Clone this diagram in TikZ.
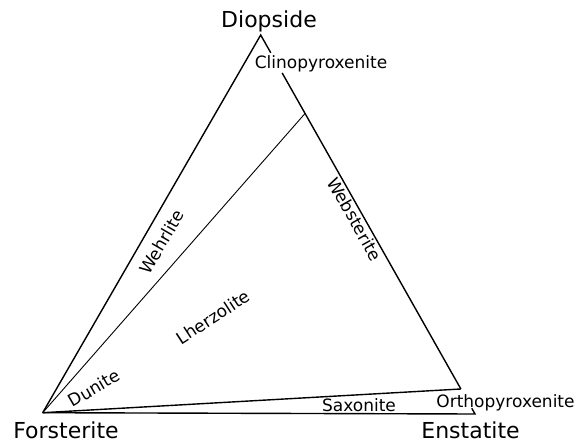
\documentclass[tikz,border=0pt]{standalone}
\usepackage{fontspec}
\setmainfont{DejaVu Sans}
\usetikzlibrary{calc}

\begin{document}
\begin{tikzpicture}[x=1pt, y=-1pt,
  edge/.style={line width=1.4pt, line join=miter},
  divide/.style={line width=0.9pt},
  vl/.style={anchor=base, inner sep=0pt, font=\fontsize{22}{25}\selectfont},
  rl/.style={inner sep=0pt, font=\fontsize{17}{20}\selectfont}]
\useasboundingbox (0,0) rectangle (577,443);
\coordinate (fo) at (42.7,412.7);
\coordinate (di) at (260.7,35);
\coordinate (en) at (475,414);
\coordinate (we) at ($(di)!0.207!(en)$);
\coordinate (sa) at ($(di)!0.934!(en)$);
\draw[edge] (fo) -- (di) -- ($(di)!0.047!(en)$);
\draw[edge] ($(di)!0.10!(en)$) -- (sa);
\draw[edge] (fo) -- (en) -- ($(di)!0.985!(en)$);
\draw[edge] (fo) -- (sa);
\draw[divide] (fo) -- (we);
\node[vl] (diop) at (269,28) {Diopside};
\node[vl] (fors) at (66,438.5) {Forsterite};
\node[vl] (enst) at (470.5,438) {Enstatite};
\node[rl, anchor=base] (clin) at (321,68.5) {Clinopyroxenite};
\node[rl, anchor=base] (orth) at (505.5,407) {Orthopyroxenite};
\node[rl, anchor=base] (saxo) at (359,411) {Saxonite};
\node[rl, rotate=30] (duni) at (94,388) {Dunite};
\node[rl, rotate=60] (wehr) at (162,242) {Wehrlite};
\node[rl, rotate=33] (lher) at (213,317) {Lherzolite};
\node[rl, rotate=-60.7] (webs) at (355,219) {Websterite};
\end{tikzpicture}
\end{document}
